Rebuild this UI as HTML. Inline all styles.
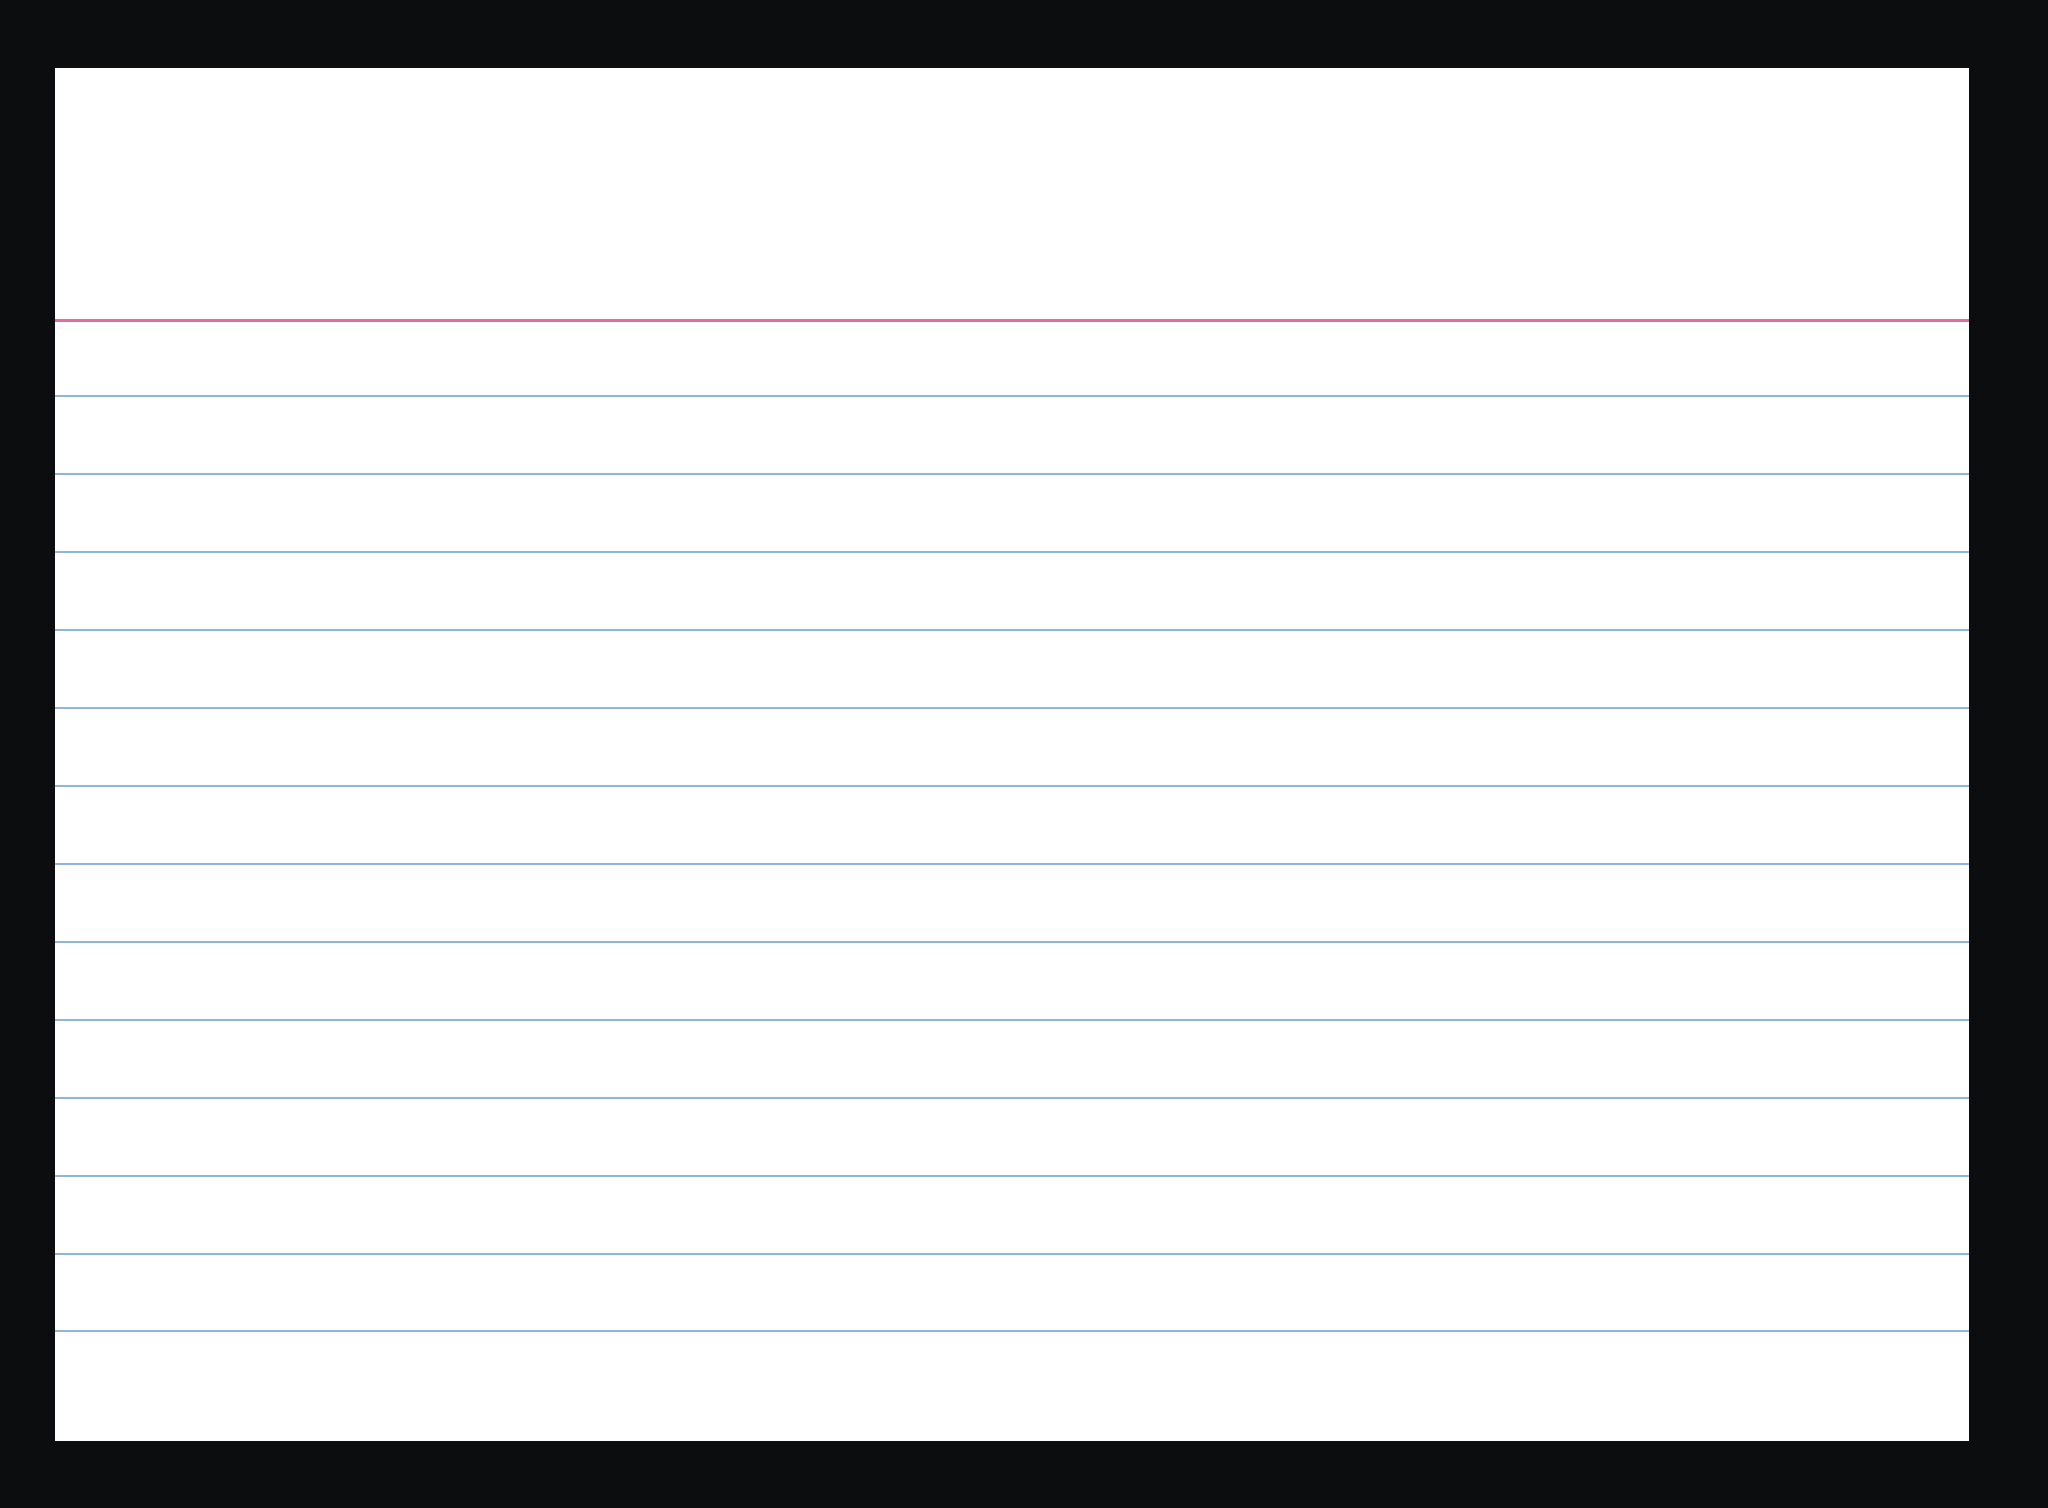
<!DOCTYPE html>
<html><head><style>
html,body{margin:0;padding:0;width:2048px;height:1508px;background:#0c0d0f;overflow:hidden}
.card{position:absolute;left:55px;top:68px;width:1914px;height:1373px;background:#fff}
.l{position:absolute;left:55px;width:1914px;height:2px;background:#8fb4e0}
.r{position:absolute;left:55px;width:1914px;top:319px;height:3px;background:#e86aa4}
</style></head><body>
<div class="card"></div>
<div class="r"></div>
<div class="l" style="top:395px"></div>
<div class="l" style="top:473px"></div>
<div class="l" style="top:551px"></div>
<div class="l" style="top:629px"></div>
<div class="l" style="top:707px"></div>
<div class="l" style="top:785px"></div>
<div class="l" style="top:863px"></div>
<div class="l" style="top:941px"></div>
<div class="l" style="top:1019px"></div>
<div class="l" style="top:1097px"></div>
<div class="l" style="top:1175px"></div>
<div class="l" style="top:1253px"></div>
<div class="l" style="top:1330px"></div>
</body></html>
